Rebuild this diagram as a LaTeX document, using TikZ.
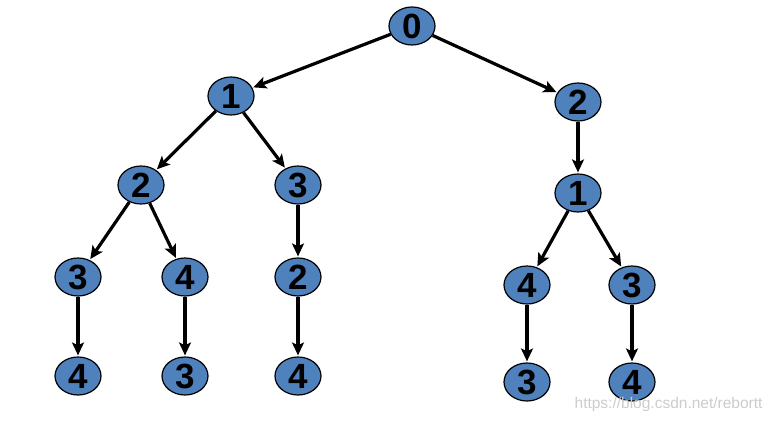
\documentclass[tikz,border=0pt]{standalone}
\usepackage{fontspec}
\setmainfont{Liberation Sans}
\usetikzlibrary{shapes.geometric,arrows.meta}
\definecolor{nodeblue}{HTML}{4F81BD}
\begin{document}
\begin{tikzpicture}[x=1pt,y=-1pt,
  tnode/.style={ellipse,draw=black,line width=1.2pt,fill=nodeblue,minimum width=46pt,minimum height=38pt,inner sep=0pt,font=\fontsize{35}{35}\selectfont\bfseries},
  edge/.style={line width=3.2pt,-{Stealth[length=13pt,width=12pt,inset=3pt]},shorten >=1pt}]
\useasboundingbox (0,0) rectangle (776,422);
\node[tnode] (n0) at (412,26) {0};
\node[tnode] (a1) at (231,96) {1};
\node[tnode] (b2) at (578,102) {2};
\node[tnode] (a2) at (141,185) {2};
\node[tnode] (a3) at (298,185) {3};
\node[tnode] (b1) at (578,193) {1};
\node[tnode] (c3) at (78,277) {3};
\node[tnode] (c4) at (185,277) {4};
\node[tnode] (c2) at (298,277) {2};
\node[tnode] (d4) at (527,285) {4};
\node[tnode] (d3) at (632,285) {3};
\node[tnode] (e4) at (78,376) {4};
\node[tnode] (e3) at (185,376) {3};
\node[tnode] (e4b) at (298,376) {4};
\node[tnode] (f3) at (527,382) {3};
\node[tnode] (f4) at (632,382) {4};
\draw[edge] (n0) -- (a1);
\draw[edge] (n0) -- (b2);
\draw[edge] (a1) -- (a2);
\draw[edge] (a1) -- (a3);
\draw[edge] (b2) -- (b1);
\draw[edge] (a2) -- (c3);
\draw[edge] (a2) -- (c4);
\draw[edge] (a3) -- (c2);
\draw[edge] (b1) -- (d4);
\draw[edge] (b1) -- (d3);
\draw[edge] (c3) -- (e4);
\draw[edge] (c4) -- (e3);
\draw[edge] (c2) -- (e4b);
\draw[edge] (d4) -- (f3);
\draw[edge] (d3) -- (f4);
\node[text=black!20,font=\fontsize{15.5}{15.5}\selectfont,anchor=east] (wm) at (766,404) {https://blog.csdn.net/rebortt};
\end{tikzpicture}
\end{document}
